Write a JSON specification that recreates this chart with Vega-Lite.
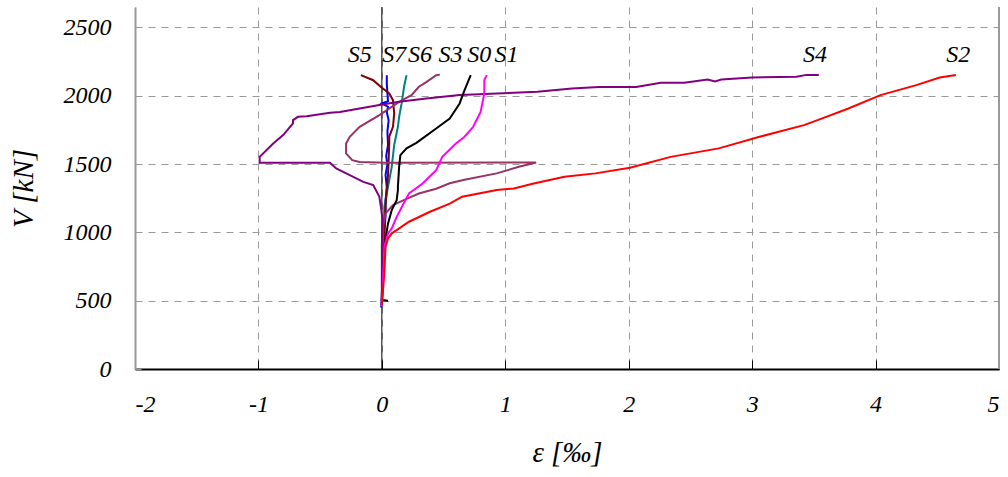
{
  "$schema": "https://vega.github.io/schema/vega-lite/v6.json",
  "width": 864,
  "height": 362,
  "autosize": {"type": "none"},
  "padding": {"left": 135, "top": 7, "right": 9, "bottom": 108},
  "background": "white",
  "config": {
    "view": {"stroke": null},
    "font": "Liberation Serif",
    "axis": {
      "labelFont": "Liberation Serif",
      "labelFontStyle": "italic",
      "labelFontSize": 24,
      "labelColor": "black",
      "titleFont": "Liberation Serif",
      "titleFontStyle": "italic",
      "titleFontWeight": "normal",
      "titleFontSize": 29,
      "titleColor": "black",
      "gridColor": "#999999",
      "gridDash": [7, 6],
      "gridWidth": 1
    }
  },
  "datasets": {
    "curves": [
      {"s": "S7", "i": 1, "x": -0.005, "v": 450},
      {"s": "S7", "i": 2, "x": 0.0, "v": 560},
      {"s": "S7", "i": 3, "x": 0.01, "v": 724},
      {"s": "S7", "i": 4, "x": 0.02, "v": 900},
      {"s": "S7", "i": 5, "x": 0.02, "v": 1000},
      {"s": "S7", "i": 6, "x": 0.03, "v": 1120},
      {"s": "S7", "i": 7, "x": 0.03, "v": 1236},
      {"s": "S7", "i": 8, "x": 0.04, "v": 1330},
      {"s": "S7", "i": 9, "x": 0.03, "v": 1420},
      {"s": "S7", "i": 10, "x": 0.045, "v": 1500},
      {"s": "S7", "i": 11, "x": 0.035, "v": 1560},
      {"s": "S7", "i": 12, "x": 0.05, "v": 1640},
      {"s": "S7", "i": 13, "x": 0.045, "v": 1740},
      {"s": "S7", "i": 14, "x": 0.055, "v": 1820},
      {"s": "S7", "i": 15, "x": 0.04, "v": 1880},
      {"s": "S7", "i": 16, "x": 0.05, "v": 1920},
      {"s": "S7", "i": 17, "x": 0.0, "v": 1944},
      {"s": "S7", "i": 18, "x": 0.05, "v": 1960},
      {"s": "S7", "i": 19, "x": 0.045, "v": 2020},
      {"s": "S7", "i": 20, "x": 0.04, "v": 2090},
      {"s": "S7", "i": 21, "x": 0.04, "v": 2151},

      {"s": "S6", "i": 1, "x": 0.0, "v": 470},
      {"s": "S6", "i": 2, "x": 0.01, "v": 700},
      {"s": "S6", "i": 3, "x": 0.015, "v": 1000},
      {"s": "S6", "i": 4, "x": 0.02, "v": 1187},
      {"s": "S6", "i": 5, "x": 0.05, "v": 1334},
      {"s": "S6", "i": 6, "x": 0.08, "v": 1480},
      {"s": "S6", "i": 7, "x": 0.1, "v": 1640},
      {"s": "S6", "i": 8, "x": 0.13, "v": 1773},
      {"s": "S6", "i": 9, "x": 0.14, "v": 1846},
      {"s": "S6", "i": 10, "x": 0.16, "v": 1944},
      {"s": "S6", "i": 11, "x": 0.18, "v": 2066},
      {"s": "S6", "i": 12, "x": 0.19, "v": 2110},
      {"s": "S6", "i": 13, "x": 0.2, "v": 2151},

      {"s": "S5", "i": 1, "x": 0.0, "v": 470},
      {"s": "S5", "i": 2, "x": 0.01, "v": 700},
      {"s": "S5", "i": 3, "x": 0.02, "v": 1000},
      {"s": "S5", "i": 4, "x": 0.03, "v": 1200},
      {"s": "S5", "i": 5, "x": 0.05, "v": 1420},
      {"s": "S5", "i": 6, "x": 0.06, "v": 1651},
      {"s": "S5", "i": 7, "x": 0.06, "v": 1700},
      {"s": "S5", "i": 8, "x": 0.09, "v": 1773},
      {"s": "S5", "i": 9, "x": 0.1, "v": 1871},
      {"s": "S5", "i": 10, "x": 0.09, "v": 1968},
      {"s": "S5", "i": 11, "x": 0.06, "v": 2017},
      {"s": "S5", "i": 12, "x": -0.01, "v": 2066},
      {"s": "S5", "i": 13, "x": -0.07, "v": 2114},
      {"s": "S5", "i": 14, "x": -0.17, "v": 2151},

      {"s": "S3", "i": 1, "x": 0.0, "v": 470},
      {"s": "S3", "i": 2, "x": 0.005, "v": 800},
      {"s": "S3", "i": 3, "x": 0.01, "v": 1041},
      {"s": "S3", "i": 4, "x": 0.03, "v": 1139},
      {"s": "S3", "i": 5, "x": 0.09, "v": 1200},
      {"s": "S3", "i": 6, "x": 0.2, "v": 1245},
      {"s": "S3", "i": 7, "x": 0.3, "v": 1285},
      {"s": "S3", "i": 8, "x": 0.44, "v": 1320},
      {"s": "S3", "i": 9, "x": 0.55, "v": 1360},
      {"s": "S3", "i": 10, "x": 0.66, "v": 1383},
      {"s": "S3", "i": 11, "x": 0.93, "v": 1432},
      {"s": "S3", "i": 12, "x": 1.11, "v": 1480},
      {"s": "S3", "i": 13, "x": 1.25, "v": 1512},
      {"s": "S3", "i": 14, "x": 0.035, "v": 1509},
      {"s": "S3", "i": 15, "x": -0.18, "v": 1515},
      {"s": "S3", "i": 16, "x": -0.24, "v": 1529},
      {"s": "S3", "i": 17, "x": -0.29, "v": 1578},
      {"s": "S3", "i": 18, "x": -0.29, "v": 1651},
      {"s": "S3", "i": 19, "x": -0.26, "v": 1700},
      {"s": "S3", "i": 20, "x": -0.18, "v": 1773},
      {"s": "S3", "i": 21, "x": -0.02, "v": 1858},
      {"s": "S3", "i": 22, "x": 0.14, "v": 1956},
      {"s": "S3", "i": 23, "x": 0.24, "v": 2005},
      {"s": "S3", "i": 24, "x": 0.3, "v": 2066},
      {"s": "S3", "i": 25, "x": 0.36, "v": 2100},
      {"s": "S3", "i": 26, "x": 0.44, "v": 2151},
      {"s": "S3", "i": 27, "x": 0.47, "v": 2155},

      {"s": "S4", "i": 1, "x": 0.0, "v": 470},
      {"s": "S4", "i": 2, "x": 0.0, "v": 900},
      {"s": "S4", "i": 3, "x": 0.005, "v": 1100},
      {"s": "S4", "i": 4, "x": -0.01, "v": 1200},
      {"s": "S4", "i": 5, "x": -0.02, "v": 1261},
      {"s": "S4", "i": 6, "x": -0.07, "v": 1346},
      {"s": "S4", "i": 7, "x": -0.15, "v": 1370},
      {"s": "S4", "i": 8, "x": -0.26, "v": 1419},
      {"s": "S4", "i": 9, "x": -0.37, "v": 1468},
      {"s": "S4", "i": 10, "x": -0.42, "v": 1509},
      {"s": "S4", "i": 11, "x": -0.99, "v": 1509},
      {"s": "S4", "i": 12, "x": -0.99, "v": 1553},
      {"s": "S4", "i": 13, "x": -0.88, "v": 1651},
      {"s": "S4", "i": 14, "x": -0.8, "v": 1712},
      {"s": "S4", "i": 15, "x": -0.72, "v": 1798},
      {"s": "S4", "i": 16, "x": -0.72, "v": 1822},
      {"s": "S4", "i": 17, "x": -0.68, "v": 1846},
      {"s": "S4", "i": 18, "x": -0.61, "v": 1851},
      {"s": "S4", "i": 19, "x": -0.42, "v": 1875},
      {"s": "S4", "i": 20, "x": -0.34, "v": 1882},
      {"s": "S4", "i": 21, "x": -0.18, "v": 1907},
      {"s": "S4", "i": 22, "x": -0.02, "v": 1932},
      {"s": "S4", "i": 23, "x": 0.14, "v": 1956},
      {"s": "S4", "i": 24, "x": 0.36, "v": 1980},
      {"s": "S4", "i": 25, "x": 0.63, "v": 2005},
      {"s": "S4", "i": 26, "x": 0.79, "v": 2012},
      {"s": "S4", "i": 27, "x": 0.93, "v": 2017},
      {"s": "S4", "i": 28, "x": 1.26, "v": 2029},
      {"s": "S4", "i": 29, "x": 1.54, "v": 2053},
      {"s": "S4", "i": 30, "x": 1.76, "v": 2065},
      {"s": "S4", "i": 31, "x": 2.06, "v": 2065},
      {"s": "S4", "i": 32, "x": 2.26, "v": 2095},
      {"s": "S4", "i": 33, "x": 2.45, "v": 2095},
      {"s": "S4", "i": 34, "x": 2.64, "v": 2119},
      {"s": "S4", "i": 35, "x": 2.7, "v": 2105},
      {"s": "S4", "i": 36, "x": 2.75, "v": 2119},
      {"s": "S4", "i": 37, "x": 3.0, "v": 2134},
      {"s": "S4", "i": 38, "x": 3.36, "v": 2139},
      {"s": "S4", "i": 39, "x": 3.44, "v": 2153},
      {"s": "S4", "i": 40, "x": 3.54, "v": 2153},

      {"s": "S0", "i": 1, "x": 0.05, "v": 500},
      {"s": "S0", "i": 2, "x": 0.0, "v": 505},
      {"s": "S0", "i": 3, "x": 0.01, "v": 724},
      {"s": "S0", "i": 4, "x": 0.02, "v": 895},
      {"s": "S0", "i": 5, "x": 0.05, "v": 1066},
      {"s": "S0", "i": 6, "x": 0.08, "v": 1163},
      {"s": "S0", "i": 7, "x": 0.12, "v": 1236},
      {"s": "S0", "i": 8, "x": 0.13, "v": 1310},
      {"s": "S0", "i": 9, "x": 0.13, "v": 1334},
      {"s": "S0", "i": 10, "x": 0.14, "v": 1480},
      {"s": "S0", "i": 11, "x": 0.15, "v": 1566},
      {"s": "S0", "i": 12, "x": 0.2, "v": 1615},
      {"s": "S0", "i": 13, "x": 0.28, "v": 1655},
      {"s": "S0", "i": 14, "x": 0.33, "v": 1688},
      {"s": "S0", "i": 15, "x": 0.44, "v": 1761},
      {"s": "S0", "i": 16, "x": 0.55, "v": 1834},
      {"s": "S0", "i": 17, "x": 0.63, "v": 1944},
      {"s": "S0", "i": 18, "x": 0.67, "v": 2041},
      {"s": "S0", "i": 19, "x": 0.72, "v": 2151},

      {"s": "S1", "i": 1, "x": 0.0, "v": 460},
      {"s": "S1", "i": 2, "x": 0.01, "v": 700},
      {"s": "S1", "i": 3, "x": 0.02, "v": 900},
      {"s": "S1", "i": 4, "x": 0.05, "v": 993},
      {"s": "S1", "i": 5, "x": 0.08, "v": 1029},
      {"s": "S1", "i": 6, "x": 0.12, "v": 1114},
      {"s": "S1", "i": 7, "x": 0.17, "v": 1200},
      {"s": "S1", "i": 8, "x": 0.22, "v": 1285},
      {"s": "S1", "i": 9, "x": 0.33, "v": 1358},
      {"s": "S1", "i": 10, "x": 0.44, "v": 1456},
      {"s": "S1", "i": 11, "x": 0.49, "v": 1553},
      {"s": "S1", "i": 12, "x": 0.6, "v": 1651},
      {"s": "S1", "i": 13, "x": 0.67, "v": 1700},
      {"s": "S1", "i": 14, "x": 0.74, "v": 1773},
      {"s": "S1", "i": 15, "x": 0.8, "v": 1882},
      {"s": "S1", "i": 16, "x": 0.83, "v": 2017},
      {"s": "S1", "i": 17, "x": 0.83, "v": 2115},
      {"s": "S1", "i": 18, "x": 0.85, "v": 2151},

      {"s": "S2", "i": 1, "x": 0.0, "v": 470},
      {"s": "S2", "i": 2, "x": 0.02, "v": 700},
      {"s": "S2", "i": 3, "x": 0.03, "v": 895},
      {"s": "S2", "i": 4, "x": 0.05, "v": 956},
      {"s": "S2", "i": 5, "x": 0.08, "v": 993},
      {"s": "S2", "i": 6, "x": 0.12, "v": 1017},
      {"s": "S2", "i": 7, "x": 0.22, "v": 1078},
      {"s": "S2", "i": 8, "x": 0.39, "v": 1151},
      {"s": "S2", "i": 9, "x": 0.55, "v": 1210},
      {"s": "S2", "i": 10, "x": 0.65, "v": 1261},
      {"s": "S2", "i": 11, "x": 0.93, "v": 1310},
      {"s": "S2", "i": 12, "x": 1.07, "v": 1322},
      {"s": "S2", "i": 13, "x": 1.23, "v": 1358},
      {"s": "S2", "i": 14, "x": 1.48, "v": 1407},
      {"s": "S2", "i": 15, "x": 1.73, "v": 1432},
      {"s": "S2", "i": 16, "x": 2.01, "v": 1473},
      {"s": "S2", "i": 17, "x": 2.34, "v": 1553},
      {"s": "S2", "i": 18, "x": 2.73, "v": 1615},
      {"s": "S2", "i": 19, "x": 3.06, "v": 1700},
      {"s": "S2", "i": 20, "x": 3.42, "v": 1785},
      {"s": "S2", "i": 21, "x": 3.53, "v": 1822},
      {"s": "S2", "i": 22, "x": 3.78, "v": 1907},
      {"s": "S2", "i": 23, "x": 4.04, "v": 2005},
      {"s": "S2", "i": 24, "x": 4.33, "v": 2078},
      {"s": "S2", "i": 25, "x": 4.52, "v": 2134},
      {"s": "S2", "i": 26, "x": 4.65, "v": 2153}
    ],
    "labels": [
      {"t": "S5", "x": -0.18, "v": 2297},
      {"t": "S7", "x": 0.1, "v": 2297},
      {"t": "S6", "x": 0.31, "v": 2297},
      {"t": "S3", "x": 0.556, "v": 2297},
      {"t": "S0", "x": 0.79, "v": 2297},
      {"t": "S1", "x": 1.01, "v": 2297},
      {"t": "S4", "x": 3.51, "v": 2301},
      {"t": "S2", "x": 4.67, "v": 2301}
    ]
  },
  "encoding": {
    "x": {
      "type": "quantitative",
      "scale": {"domain": [-2, 5], "nice": false, "zero": false},
      "axis": {
        "values": [-2, -1, 0, 1, 2, 3, 4, 5],
        "labelExpr": "'' + datum.value",
        "title": "ε  [‰]",
        "grid": true,
        "domainColor": "black",
        "domainWidth": 2,
        "tickColor": "black",
        "tickSize": -9,
        "tickWidth": 1,
        "labelPadding": 32,
        "titlePadding": 22
      }
    },
    "y": {
      "type": "quantitative",
      "scale": {"domain": [0, 2650], "nice": false},
      "axis": {
        "values": [0, 500, 1000, 1500, 2000, 2500],
        "labelExpr": "'' + datum.value",
        "title": "V [kN]",
        "grid": true,
        "domainColor": "#999999",
        "domainWidth": 2,
        "tickColor": "#999999",
        "tickSize": -6,
        "tickWidth": 1,
        "labelPadding": 30,
        "titlePadding": 25
      }
    }
  },
  "layer": [
    {
      "data": {"values": [{"x": 5}]},
      "mark": {"type": "rule", "color": "#999999", "strokeWidth": 2},
      "encoding": {"x": {"field": "x"}, "y": null}
    },
    {
      "data": {"values": [{"x": 0}]},
      "mark": {"type": "rule", "color": "black", "strokeWidth": 1},
      "encoding": {"x": {"field": "x"}, "y": null}
    },
    {
      "data": {"name": "curves"},
      "mark": {"type": "line", "strokeWidth": 2, "interpolate": "linear"},
      "encoding": {
        "x": {"field": "x"},
        "y": {"field": "v"},
        "order": {"field": "i", "type": "quantitative"},
        "detail": {"field": "s", "type": "nominal"},
        "color": {
          "field": "s",
          "type": "nominal",
          "legend": null,
          "scale": {
            "domain": ["S0", "S1", "S2", "S3", "S4", "S5", "S6", "S7"],
            "range": ["#000000", "#FF00FF", "#FF0000", "#993366", "#800080", "#800000", "#008080", "#0000FF"]
          }
        }
      }
    },
    {
      "data": {"name": "labels"},
      "mark": {"type": "text", "font": "Liberation Serif", "fontStyle": "italic", "fontSize": 24, "color": "black", "align": "center", "baseline": "middle"},
      "encoding": {
        "x": {"field": "x"},
        "y": {"field": "v"},
        "text": {"field": "t"}
      }
    }
  ]
}
